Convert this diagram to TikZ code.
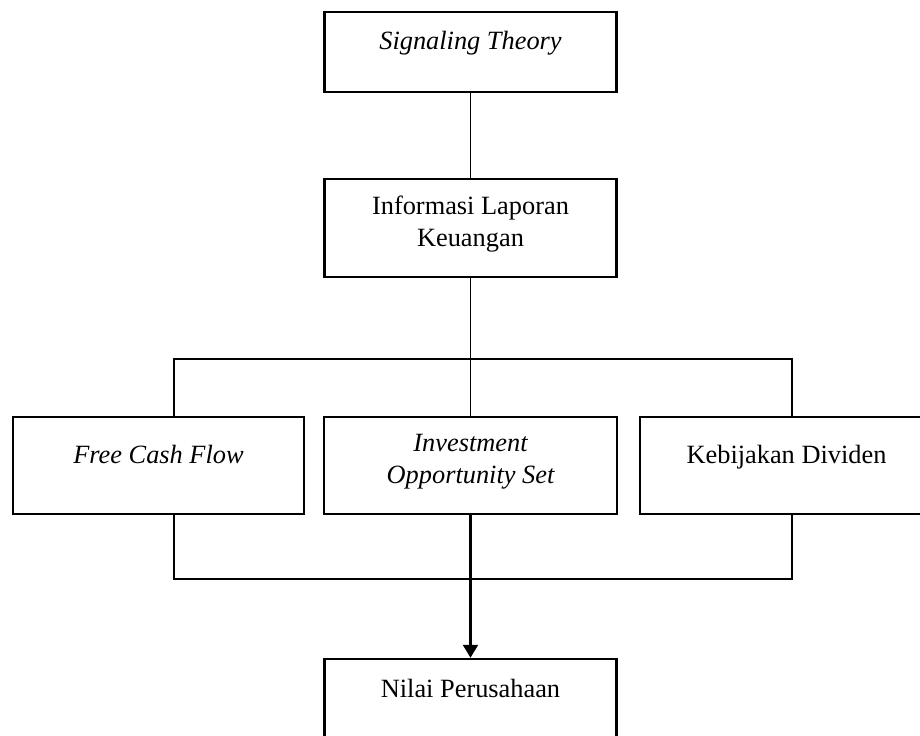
\documentclass[tikz,border=0pt]{standalone}
\usepackage{fontspec}
\setmainfont{Liberation Serif}
\usetikzlibrary{arrows.meta}

\tikzset{
    kotak/.style={draw,line width=1.4pt,align=center,inner sep=0pt,
        minimum width=5.84cm,minimum height=1.96cm,text height=10pt},
    miring/.style={font=\fontsize{15}{18.2}\selectfont\itshape},
    garis/.style={line width=1.4pt},
    garistipis/.style={line width=0.7pt}
}

\begin{document}
\begin{tikzpicture}[x=0.02cm,y=-0.02cm,font=\fontsize{15}{18.2}\selectfont]
        \path[use as bounding box] (0,0) rectangle (920,736);
        \clip (0,0) rectangle (920,736);

        %%%%%%%% Kotak %%%%%%%%%
        \node[kotak,miring,minimum height=1.6cm,text depth=12.5pt] (st) at (470.5,52) {Signaling Theory};
        \node[kotak,text height=25pt,text depth=3.5pt] (ilk) at (470.5,228) {Informasi Laporan\\Keuangan};

        \node[kotak,miring,minimum width=5.82cm,minimum height=1.94cm,text depth=12.8pt] (fcf) at (158.5,465.5) {Free Cash Flow};
        \node[kotak,miring,minimum width=5.86cm,minimum height=1.94cm,text height=25pt,text depth=4pt] (ios) at (470.5,465.5) {Investment\\Opportunity Set};
        \node[kotak,minimum width=5.86cm,minimum height=1.94cm,text depth=12.8pt] (kd) at (786.5,465.5) {Kebijakan Dividen};

        \node[kotak,text depth=22.5pt] (np) at (470.5,708) {Nilai Perusahaan};

        %%%%%%%% Garis %%%%%%%%%
        \coordinate (kiri) at (174,359);
        \coordinate (kanan) at (792,579);

        \draw[garistipis] (st) -- (ilk);
        \draw[garistipis] (ilk) -- (ios);
        \draw[garis] (fcf.north -| kiri) -- (kiri) -- (kiri -| kanan) -- (kd.north -| kanan);
        \draw[garis] (fcf.south -| kiri) -- (kiri |- kanan) -- (kanan) -- (kd.south -| kanan);
        \draw[garis,-{Triangle[length=7.4pt,width=8.5pt]}] (ios) -- (np);

\end{tikzpicture}
\end{document}
